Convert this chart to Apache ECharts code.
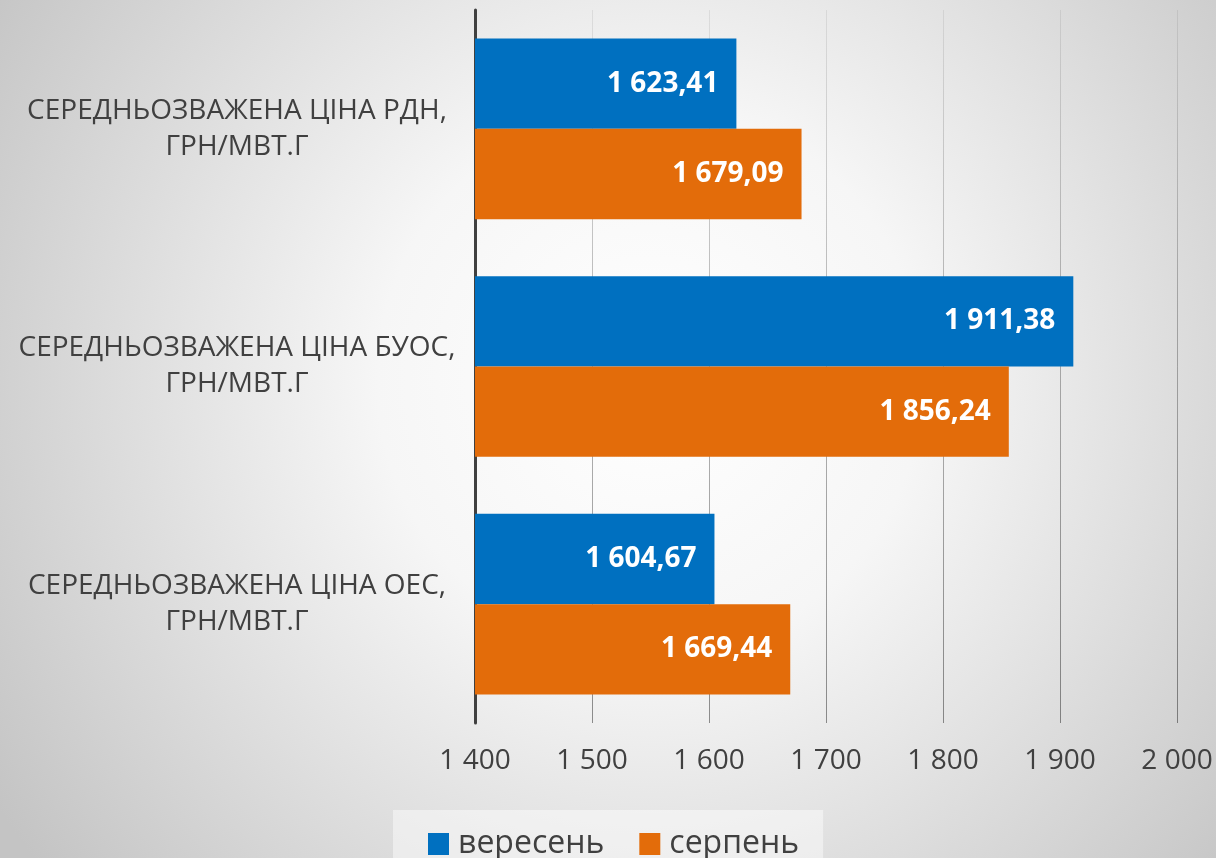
<!DOCTYPE html>
<html>
<head>
<meta charset="utf-8">
<script src="https://cdn.jsdelivr.net/npm/echarts@6/dist/echarts.min.js"></script>
<style>
  html, body { margin: 0; padding: 0; }
  #chart { width: 1216px; height: 858px; }
</style>
</head>
<body>
<div id="chart"></div>
<script>
const categories = [
  'СЕРЕДНЬОЗВАЖЕНА ЦІНА РДН,\nГРН/МВТ.Г',
  'СЕРЕДНЬОЗВАЖЕНА ЦІНА БУОС,\nГРН/МВТ.Г',
  'СЕРЕДНЬОЗВАЖЕНА ЦІНА ОЕС,\nГРН/МВТ.Г'
]
const september = [1623.41, 1911.38, 1604.67]
const august = [1679.09, 1856.24, 1669.44]
const seriesNames = ['вересень', 'серпень']

const FONT = '"Open Sans", sans-serif'
const TEXT = '#404040'

// 1 623,41 style
function fmt(v, digits) {
  const parts = v.toFixed(digits).split('.')
  const int = parts[0].replace(/\B(?=(\d{3})+(?!\d))/g, ' ')
  return parts.length > 1 ? int + ',' + parts[1] : int
}

function barSeries(name, data, color) {
  return {
    name,
    type: 'bar',
    data,
    barGap: '0%',
    barCategoryGap: '24%',
    itemStyle: { color },
    label: {
      show: true,
      position: 'insideRight',
      distance: 18,
      color: '#fff',
      fontFamily: FONT,
      fontWeight: 'bold',
      fontSize: 28,
      formatter: (p) => fmt(p.value, 2)
    }
  }
}

const chart = echarts.init(document.getElementById('chart'))
chart.setOption({
  backgroundColor: {
    type: 'radial', x: 650, y: 380, r: 780, global: true,
    colorStops: [
      { offset: 0, color: '#ffffff' },
      { offset: 0.35, color: '#f6f6f6' },
      { offset: 1, color: '#c4c4c4' }
    ]
  },
  animation: false,
  grid: { left: 475, right: 39, top: 10, bottom: 135 },
  legend: {
    left: 393,
    top: 810,
    padding: [18, 24, 30, 35],
    backgroundColor: 'rgba(255,255,255,0.45)',
    icon: 'rect',
    itemWidth: 21,
    itemHeight: 22,
    itemGap: 35,
    textStyle: { fontFamily: FONT, fontSize: 32, color: TEXT, padding: [0, 0, 0, 4] },
    data: seriesNames
  },
  xAxis: {
    type: 'value',
    min: 1400,
    max: 2000,
    interval: 100,
    axisLine: { show: false },
    axisTick: { show: false },
    axisLabel: {
      margin: 24,
      fontFamily: FONT,
      fontSize: 28,
      color: TEXT,
      formatter: (v) => fmt(v, 0)
    },
    splitLine: {
      lineStyle: {
        width: 1,
        color: {
          type: 'linear', x: 0, y: 10, x2: 0, y2: 723, global: true,
          colorStops: [
            { offset: 0, color: 'rgba(0,0,0,0.07)' },
            { offset: 0.4, color: 'rgba(0,0,0,0.26)' },
            { offset: 1, color: 'rgba(0,0,0,0.42)' }
          ]
        }
      }
    }
  },
  yAxis: {
    type: 'category',
    inverse: true,
    data: categories,
    axisLine: { lineStyle: { color: '#404040', width: 3 } },
    axisTick: { show: false },
    axisLabel: {
      margin: 28,
      fontFamily: FONT,
      fontSize: 28,
      lineHeight: 36,
      color: TEXT,
      formatter: (v) => v.split('\n').map((s) => '{a|' + s + '}').join('\n'),
      rich: {
        a: { width: 420, align: 'center', fontFamily: FONT, fontSize: 28, lineHeight: 36, color: TEXT }
      }
    }
  },
  series: [
    barSeries(seriesNames[0], september, '#0070C0'),
    barSeries(seriesNames[1], august, '#E36C0A')
  ]
})
window.addEventListener('resize', () => chart.resize())
</script>
</body>
</html>
